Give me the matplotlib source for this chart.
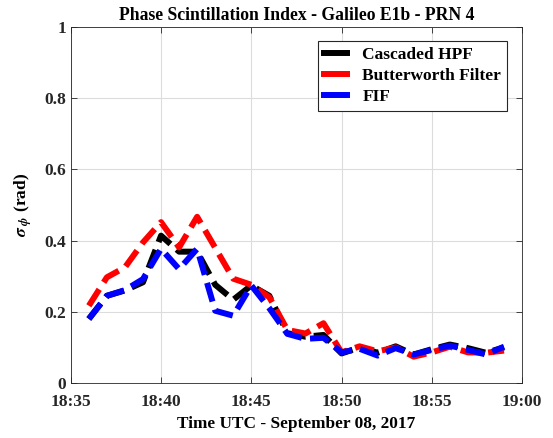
import numpy as np
import pandas as pd
import matplotlib.pyplot as plt
import matplotlib.dates as mdates
from matplotlib.lines import Line2D

plt.rcParams['font.family'] = ['Liberation Serif', 'DejaVu Serif']
plt.rcParams['font.weight'] = 'bold'
plt.rcParams['mathtext.fontset'] = 'stix'
plt.rcParams['lines.scale_dashes'] = False

# one sample per minute, 18:36 .. 18:59
times = pd.date_range('2017-09-08 18:36', '2017-09-08 18:59', freq='1min')

cascaded_hpf = [0.18, 0.245, 0.26, 0.283, 0.414, 0.369, 0.369, 0.276, 0.234, 0.274,
                0.245, 0.14, 0.13, 0.135, 0.083, 0.10, 0.085, 0.103, 0.08, 0.095,
                0.108, 0.098, 0.085, 0.10]
butterworth = [0.217, 0.297, 0.325, 0.395, 0.452, 0.381, 0.467, 0.38, 0.293, 0.276,
               0.241, 0.149, 0.139, 0.168, 0.086, 0.103, 0.089, 0.10, 0.074, 0.086,
               0.102, 0.086, 0.085, 0.091]
fif = [0.18, 0.245, 0.261, 0.292, 0.377, 0.32, 0.377, 0.203, 0.189, 0.274,
       0.21, 0.138, 0.124, 0.127, 0.086, 0.096, 0.077, 0.098, 0.08, 0.093,
       0.105, 0.093, 0.08, 0.102]

series = [('Cascaded HPF', cascaded_hpf, 'black'),
          ('Butterworth Filter', butterworth, 'red'),
          ('FIF', fif, 'blue')]

fig = plt.figure(figsize=(5.53, 4.38), dpi=100)
ax = fig.add_axes([0.128, 0.1256, 0.816, 0.8125])

for name, vals, col in series:
    ax.plot(times, vals, color=col, lw=4.3, dashes=(14, 6), label=name)

ax.set_xlim(pd.Timestamp('2017-09-08 18:35'), pd.Timestamp('2017-09-08 19:00'))
ax.set_ylim(0, 1)
ax.xaxis.set_major_locator(mdates.MinuteLocator(byminute=range(0, 60, 5)))
ax.xaxis.set_major_formatter(mdates.DateFormatter('%H:%M'))
ax.set_yticks([0, 0.2, 0.4, 0.6, 0.8, 1])
ax.set_yticklabels(['0', '0.2', '0.4', '0.6', '0.8', '1'])
ax.tick_params(direction='in', labelsize=12.5, length=4, width=0.6, top=True, right=True,
               colors='#262626', labelcolor='#262626')
ax.tick_params(axis='x', pad=8)
ax.grid(True, color='#dcdcdc', lw=0.8)
for s in ax.spines.values():
    s.set_color('#262626')
    s.set_linewidth(0.6)

ax.set_title('Phase Scintillation Index - Galileo E1b - PRN 4', fontsize=12.7,
             fontweight='bold', pad=5)
ax.set_xlabel('Time UTC - September 08, 2017', fontsize=12.4, fontweight='bold', labelpad=4)
ax.set_ylabel(r'$\sigma_{\ \phi}$ (rad)', fontsize=12.5, fontweight='bold', labelpad=7)

handles = [Line2D([0], [0], color=c, lw=4.3) for _, _, c in series]
leg = ax.legend(handles, [n for n, _, _ in series], loc='upper right',
                bbox_to_anchor=(0.967, 0.961), fontsize=12.5, handlelength=1.3,
                labelspacing=0.27, fancybox=False, framealpha=1, borderpad=0.35,
                borderaxespad=0, handletextpad=0.9)
leg.get_frame().set_edgecolor('#262626')
leg.get_frame().set_linewidth(0.8)

fig.savefig('out.png', dpi=100)
